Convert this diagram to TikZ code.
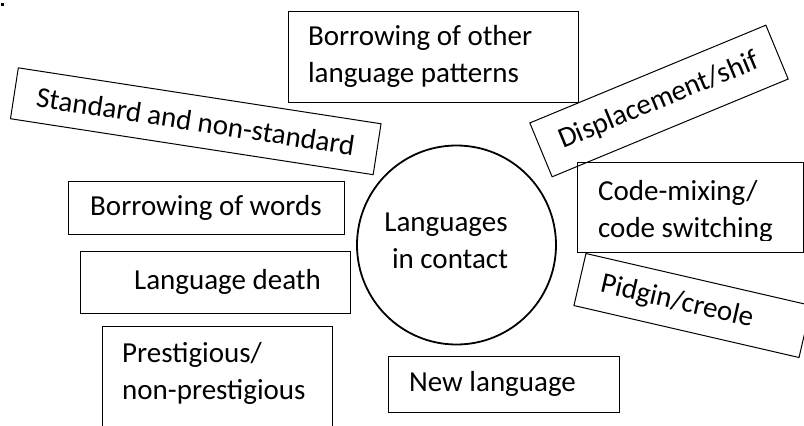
\documentclass[tikz,border=0pt]{standalone}
\usepackage{fontspec}
\setmainfont{Carlito}
\begin{document}
\begin{tikzpicture}[x=1pt,y=-1pt,
  txtfont/.style={font=\fontsize{29pt}{37pt}\selectfont},
  box/.style={draw, line width=1pt, inner sep=0pt, txtfont},
  lbl/.style={inner sep=0pt, txtfont},
  hub/.style={draw, circle, line width=1.8pt, inner sep=0pt, minimum size=199pt},
]
\useasboundingbox (0,0) rectangle (804,426);
\clip (0,0) rectangle (804,426);

% stray dot at top-left
\fill (1,3) rectangle (4,6);

% central circle
\node[hub] (hub) at (456.5,245) {};
\node[lbl, text width=140pt, align=flush center, anchor=base] (hubtxt) at (446,231)
  {Languages\hspace*{8pt}\\\hspace*{8pt}in contact};

% top box
\node[box, minimum width=290pt, minimum height=91pt, text width=250pt,
      inner xsep=20pt, align=flush left] (bop) at (433,56.5)
  {Borrowing of other\\language patterns};

% rotated boxes
\node[box, rotate=-8.77, minimum width=367pt, minimum height=51.5pt] (std)
  at (195.75,121.25) {Standard and non-standard};
\node[box, rotate=22.5, minimum width=255.5pt, minimum height=58.3pt] (disp)
  at (659,101) {Displacement/shif};
\node[box, rotate=-13, minimum width=231pt, minimum height=53.4pt] (pc)
  at (692.5,305.5) {Pidgin/creole\hspace*{32pt}};

% left boxes
\node[box, minimum width=276pt, minimum height=53pt] (bow) at (206,207.5)
  {Borrowing of words};
\node[box, minimum width=270pt, minimum height=62pt] (ld) at (215,282)
  {\hspace*{25pt}Language death};
\node[box, minimum width=230pt, minimum height=114pt, anchor=north west] (pres)
  at (102,326) {};
\node[lbl, text width=200pt, align=flush left, anchor=base west] (prestxt) at (122,362)
  {Prestigious/\\non-prestigious};

% bottom box
\node[box, minimum width=231pt, minimum height=56pt] (nl) at (503.5,384)
  {New language\hspace*{22pt}};

% code-mixing box (text clipped at its foot)
\node[box, minimum width=226pt, minimum height=90pt, anchor=north west] (cm)
  at (577,162) {};
\begin{scope}
  \clip (577,162) rectangle (804,240.5);
  \node[lbl, text width=200pt, align=flush left, anchor=base west] (cmtxt) at (598,200.8)
    {Code-mixing/\\code switching};
\end{scope}
\end{tikzpicture}
\end{document}
